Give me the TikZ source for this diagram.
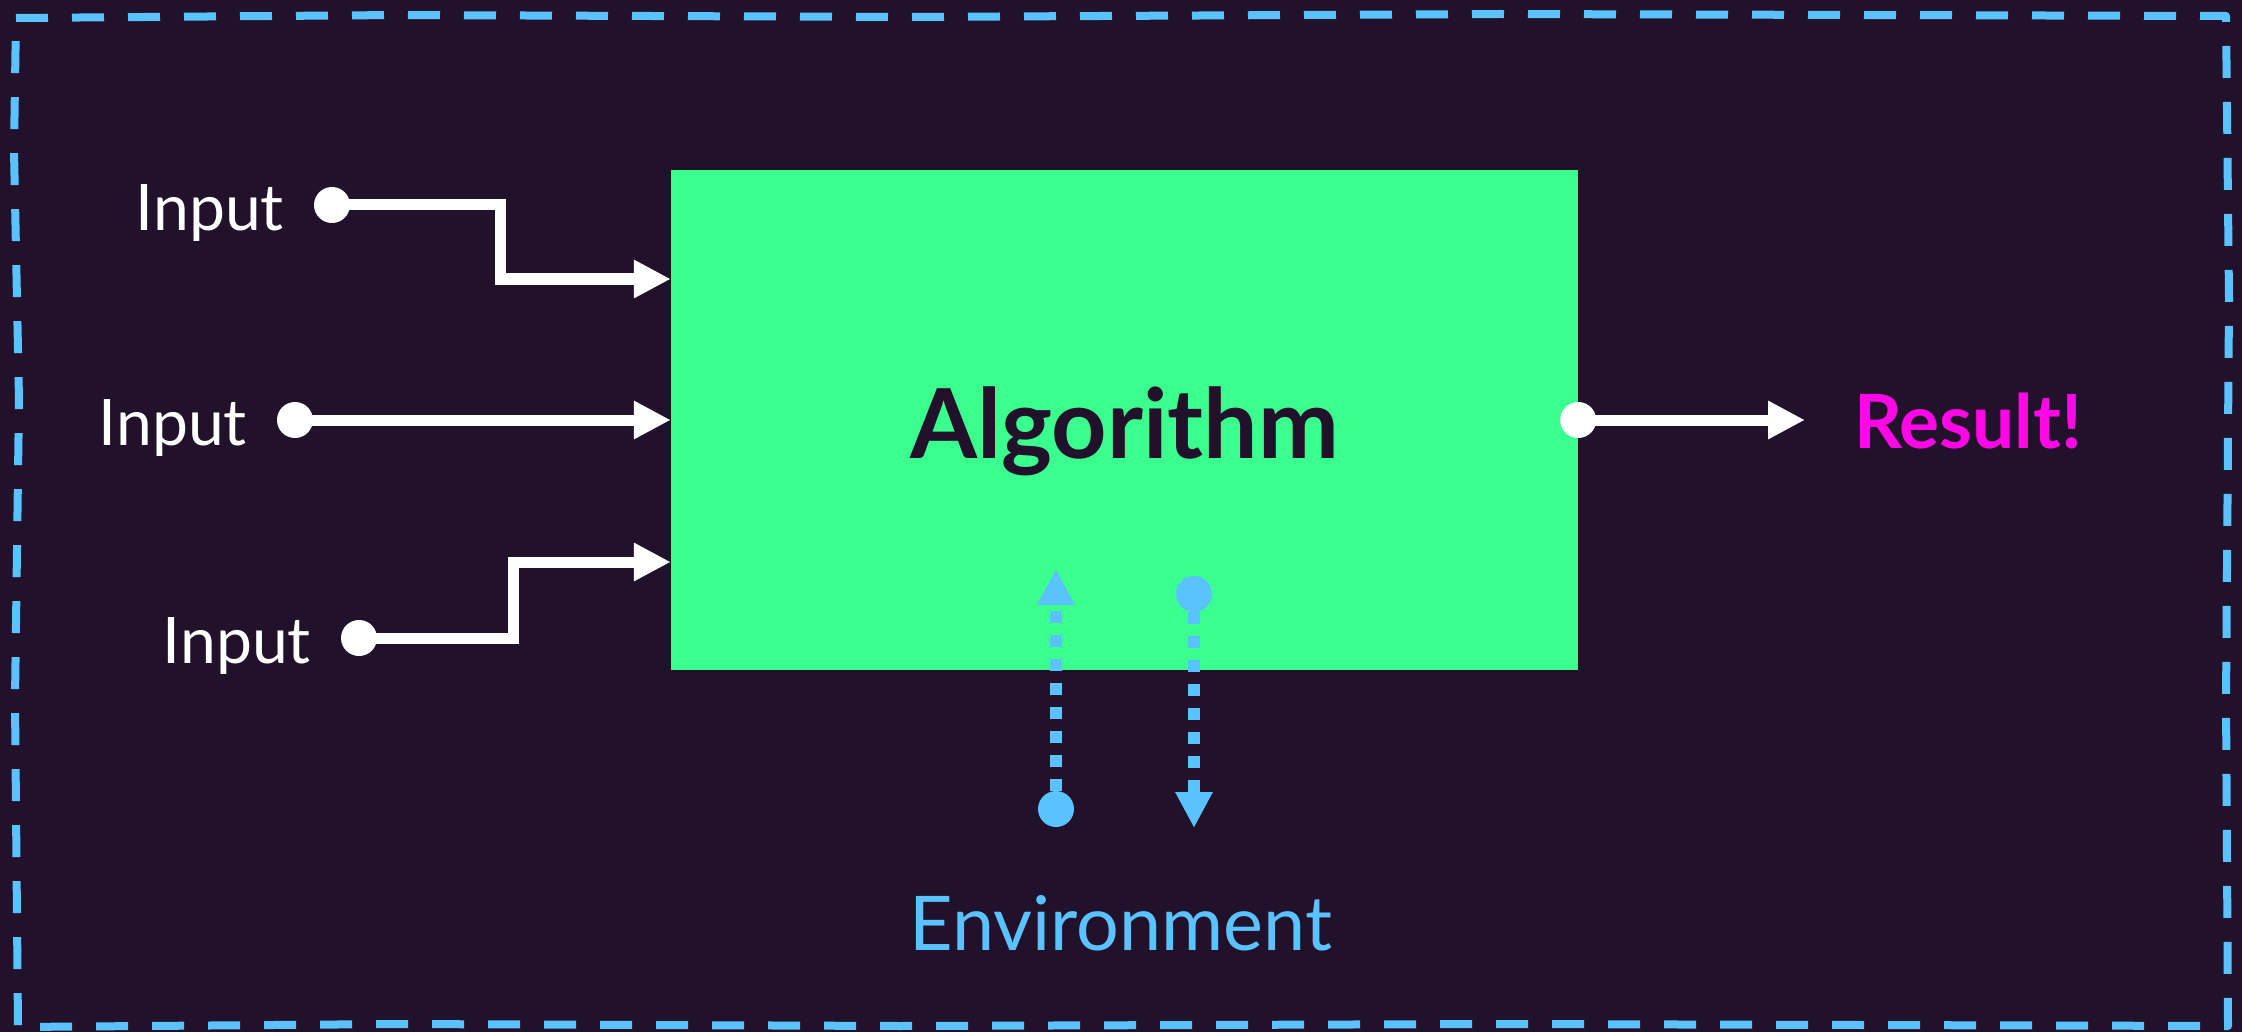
\documentclass[tikz,border=0pt]{standalone}
\usepackage{fontspec}
\setmainfont{Lato}
\usetikzlibrary{arrows.meta}
\definecolor{bgc}{HTML}{22112B}
\definecolor{grn}{HTML}{3AFF8E}
\definecolor{blu}{HTML}{5AC3FF}
\definecolor{mag}{HTML}{FF08E6}
\tikzset{
  bord/.style={draw=blu, line width=8pt, dash pattern=on 32pt off 24pt, line join=round},
  algbox/.style={fill=grn, draw=none, minimum width=907pt, minimum height=500pt, inner sep=0pt},
  wire/.style={draw=white, line width=11pt, -{Triangle[length=37pt,width=36pt]}},
  envwire/.style={draw=blu, line width=12pt, dash pattern=on 12pt off 12pt, -{Triangle[length=36pt,width=35pt]}},
  dotw/.style={circle, fill=white, minimum size=36pt, inner sep=0pt},
  dotb/.style={circle, fill=blu, minimum size=36pt, inner sep=0pt},
  intext/.style={text=white, font=\fontsize{64.2}{70}\selectfont, inner sep=0pt, anchor=base east},
  algtext/.style={text=bgc, font=\fontsize{96.6}{100}\selectfont\bfseries, inner sep=0pt, anchor=base},
  restext/.style={text=mag, font=\fontsize{74.8}{78}\selectfont\bfseries, inner sep=0pt, anchor=base west},
  envtext/.style={text=blu, font=\fontsize{75.5}{78}\selectfont, inner sep=0pt, anchor=base}
}
\begin{document}
\begin{tikzpicture}[x=1pt,y=-1pt]
\fill[bgc] (0,0) rectangle (2242,1032);
\useasboundingbox (0,0) rectangle (2242,1032);
% border
\draw[bord] (16,18) -- (400,15) -- (900,17) -- (1500,14) -- (2226,16)
  -- (2229,300) -- (2226,700) -- (2228,1026)
  -- (1500,1024) -- (900,1026) -- (400,1024) -- (18,1027)
  -- (15,700) -- (19,400) -- (14,150) -- cycle;
% main box
\node[algbox] (alg) at (1124.5,420) {};
\node[algtext] (algl) at (1124.5,458) {Algorithm};
% inputs
\node[intext] (t1) at (284,231) {Input};
\node[intext] (t2) at (247,445) {Input};
\node[intext] (t3) at (311,663) {Input};
\node[dotw] (in1) at (332,205) {};
\node[dotw] (in2) at (295,420) {};
\node[dotw] (in3) at (359,638) {};
\coordinate (a1) at (alg.west |- 0,279);
\coordinate (a2) at (alg.west |- 0,420);
\coordinate (a3) at (alg.west |- 0,562);
\draw[wire] (in1.center) -| (500,279) -- (a1);
\draw[wire] (in2.center) -- (a2);
\draw[wire] (in3.center) -| (513,562) -- (a3);
% output
\node[dotw] (out) at (alg.east) {};
\coordinate (o1) at (1805,420);
\draw[wire] (out.center) -- (o1);
\node[restext] (res) at (1854,448) {Result!};
% environment
\node[dotb] (e1) at (1056,809) {};
\coordinate (e1t) at (1056,569);
\node[dotb] (e2) at (1194,594) {};
\coordinate (e2t) at (1194,828);
\draw[envwire] (e1.north) -- (e1t);
\draw[envwire] (e2.south) -- (e2t);
\node[envtext] (env) at (1121,950) {Environment};
\end{tikzpicture}
\end{document}
